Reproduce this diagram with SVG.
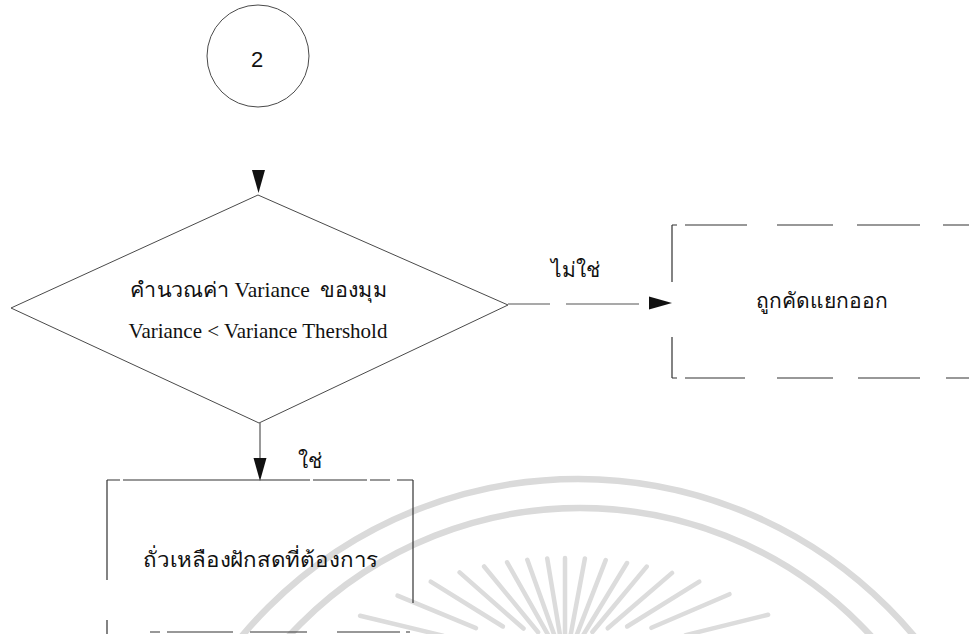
<svg xmlns="http://www.w3.org/2000/svg" xmlns:xlink="http://www.w3.org/1999/xlink" width="969" height="634" viewBox="0 0 969 634">
<style>
.wm{fill:none;stroke:#dadada;stroke-width:6.5}
.ray{stroke:#dcdcdc;stroke-width:4.5;stroke-linecap:round}
.shape{fill:none;stroke:#4a4a4a;stroke-width:1}
.box{fill:none;stroke:#333;stroke-width:1.2}
.conn{fill:none;stroke:#555;stroke-width:1.2}
.ah{fill:#111}
.t{font-family:"Liberation Serif","Noto Sans",serif;font-size:21px;fill:#111;text-anchor:middle}
.num{font-family:"Liberation Sans",Arial,sans-serif;font-size:22px;fill:#111;text-anchor:middle}
</style>
<defs>
<path id="ah" d="M0,0 L-23,-6.5 L-23,6.5 Z"/>
</defs>
<rect width="969" height="634" fill="#fff"/>
<g id="watermark">
<circle class="wm" cx="578" cy="917" r="438"/>
<circle class="wm" cx="580" cy="903" r="395"/>
<g id="rays">
<line class="ray" x1="565" y1="558" x2="565" y2="643"/>
<line class="ray" x1="584.9" y1="558.5" x2="569.3" y2="642.1"/>
<line class="ray" x1="605.7" y1="560.1" x2="575" y2="639.4"/>
<line class="ray" x1="627" y1="563" x2="582.9" y2="635.6"/>
<line class="ray" x1="646.7" y1="566.6" x2="592.4" y2="632"/>
<line class="ray" x1="672.1" y1="572.9" x2="607.7" y2="628.3"/>
<line class="ray" x1="699.3" y1="581.7" x2="627.1" y2="626.5"/>
<line class="ray" x1="729.5" y1="594.2" x2="651.4" y2="627.8"/>
<line class="ray" x1="768.1" y1="614.7" x2="685.6" y2="635.1"/>
<line class="ray" x1="547.2" y1="558.4" x2="561.2" y2="642.2"/>
<line class="ray" x1="527.3" y1="559.8" x2="556" y2="639.8"/>
<line class="ray" x1="507.1" y1="562.3" x2="548.9" y2="636.3"/>
<line class="ray" x1="484.1" y1="566.5" x2="538.1" y2="632.2"/>
<line class="ray" x1="459.6" y1="572.4" x2="523.5" y2="628.5"/>
<line class="ray" x1="430.7" y1="581.7" x2="502.9" y2="626.5"/>
<line class="ray" x1="397.5" y1="595.6" x2="476" y2="628.1"/>
<line class="ray" x1="360.1" y1="615.8" x2="442.8" y2="635.6"/>
</g>
</g>
<g id="connectors">
<use xlink:href="#ah" href="#ah" class="ah" transform="translate(258.5,193) rotate(90)"/>
<path class="conn" d="M508,304 H550 M566,304 H639"/>
<use xlink:href="#ah" href="#ah" class="ah" transform="translate(672,303)"/>
<path class="conn" d="M260,423 V458"/>
<use xlink:href="#ah" href="#ah" class="ah" transform="translate(260,481) rotate(90)"/>
<text class="t" x="575" y="277">ไม่ใช่</text>
<text class="t" x="310" y="468">ใช่</text>
</g>
<g id="node-2">
<circle class="shape" cx="258" cy="56" r="51"/>
<text class="num" x="257" y="67">2</text>
</g>
<g id="node-decision">
<polygon class="shape" points="258,195 508,305 259,423 11,308"/>
<text class="t" x="258.5" y="297" xml:space="preserve" textLength="257" lengthAdjust="spacingAndGlyphs">คำนวณค่า Variance  ของมุม</text>
<text class="t" x="258" y="338">Variance &lt; Variance Thershold</text>
</g>
<g id="node-reject">
<path class="box" d="M672,225 H677 M685,225 H747 M777,225 H833 M857,225 H920 M943,225 H969"/>
<path class="box" d="M672,378 H677 M685,378 H745 M777,378 H833 M858,378 H920 M946,378 H969"/>
<path class="box" d="M672,225 V282 M672,337 V378"/>
<text class="t" x="822" y="308">ถูกคัดแยกออก</text>
</g>
<g id="node-accept">
<path class="box" d="M107,480 H120 M123,480 H310 M313,480 H367 M370,480 H390 M397,480 H413"/>
<path class="box" d="M107,480 V580 M107,620 V634"/>
<path class="box" d="M413,480 V603"/>
<path class="box" d="M150,632 H160 M167,632 H233 M250,632 H307 M337,632 H400 M406,632 H410"/>
<text class="t" x="260.5" y="567" textLength="235" lengthAdjust="spacingAndGlyphs">ถั่วเหลืองฝักสดที่ต้องการ</text>
</g>
</svg>
